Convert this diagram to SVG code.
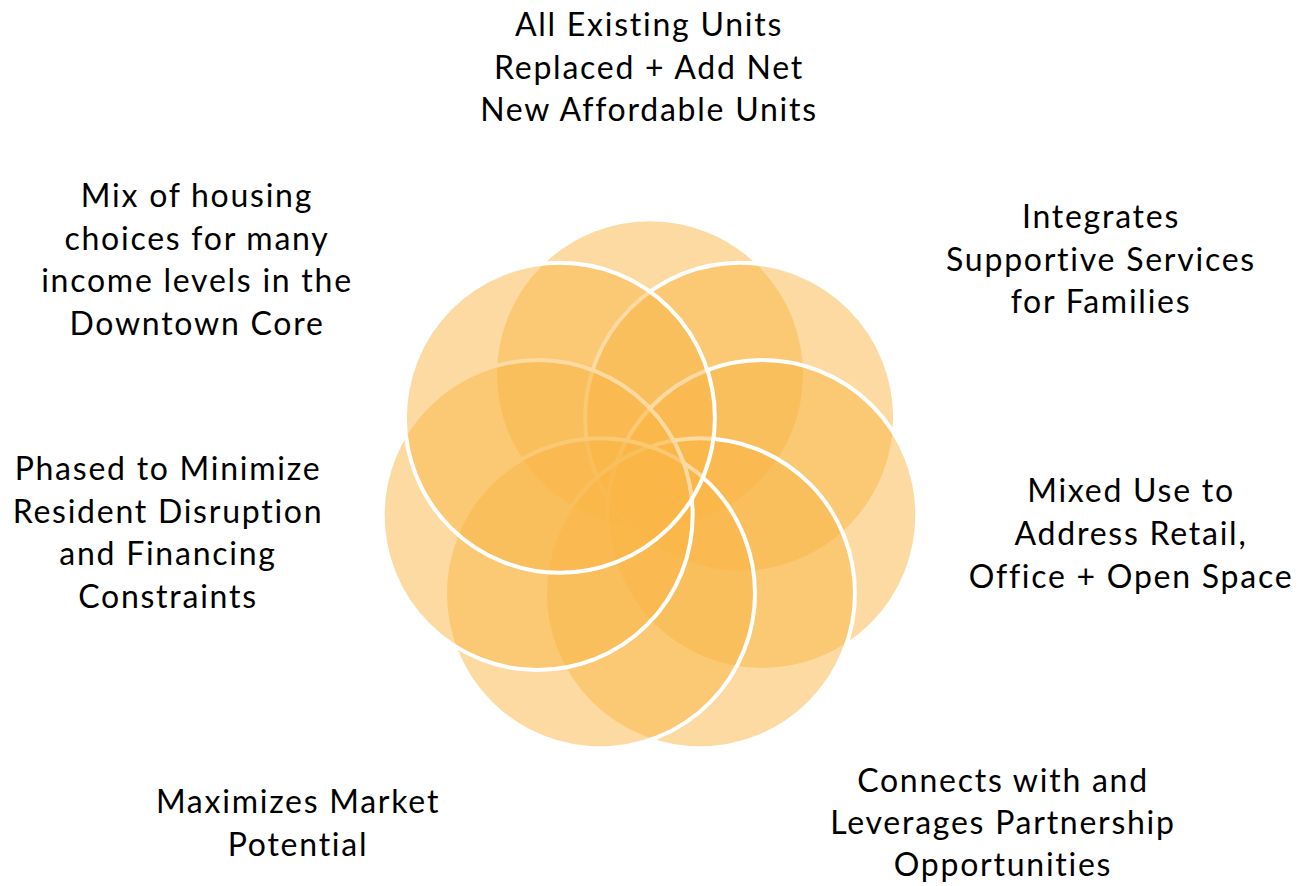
<svg xmlns="http://www.w3.org/2000/svg" width="1301" height="886" viewBox="0 0 1301 886">
<style>
.c{fill:#F9B645;fill-opacity:0.5;stroke:#FFFFFF;stroke-width:4}
.t{font-family:Lato,"Open Sans","Liberation Sans",sans-serif;font-size:32px;fill:#000;text-anchor:middle;letter-spacing:1.75px}
</style>
<rect width="1301" height="886" fill="#FFFFFF"/>
<g id="node-top">
<circle class="c" cx="650" cy="374.3" r="155"/>
<text class="t"><tspan x="649" y="36">All Existing Units</tspan><tspan x="649" y="79">Replaced + Add Net</tspan><tspan x="649" y="121">New Affordable Units</tspan></text>
</g>
<g id="node-upper-right">
<circle class="c" cx="740.1" cy="417.7" r="155"/>
<text class="t"><tspan x="1101" y="228">Integrates</tspan><tspan x="1101" y="271">Supportive Services</tspan><tspan x="1101" y="313">for Families</tspan></text>
</g>
<g id="node-right">
<circle class="c" cx="762.3" cy="515.1" r="155"/>
<text class="t"><tspan x="1131" y="502">Mixed Use to</tspan><tspan x="1131" y="545">Address Retail,</tspan><tspan x="1131" y="588">Office + Open Space</tspan></text>
</g>
<g id="node-lower-right">
<circle class="c" cx="700" cy="593.3" r="155"/>
<text class="t"><tspan x="1003" y="792">Connects with and</tspan><tspan x="1003" y="834">Leverages Partnership</tspan><tspan x="1003" y="876">Opportunities</tspan></text>
</g>
<g id="node-bottom-left">
<circle class="c" cx="600" cy="593.3" r="155"/>
<text class="t"><tspan x="298" y="813">Maximizes Market</tspan><tspan x="298" y="856">Potential</tspan></text>
</g>
<g id="node-left">
<circle class="c" cx="537.7" cy="515.1" r="155"/>
<text class="t"><tspan x="168" y="480">Phased to Minimize</tspan><tspan x="168" y="523">Resident Disruption</tspan><tspan x="168" y="565">and Financing</tspan><tspan x="168" y="608">Constraints</tspan></text>
</g>
<g id="node-upper-left">
<circle class="c" cx="559.9" cy="417.7" r="155"/>
<text class="t"><tspan x="197" y="207">Mix of housing</tspan><tspan x="197" y="250">choices for many</tspan><tspan x="197" y="292">income levels in the</tspan><tspan x="197" y="335">Downtown Core</tspan></text>
</g>
</svg>
